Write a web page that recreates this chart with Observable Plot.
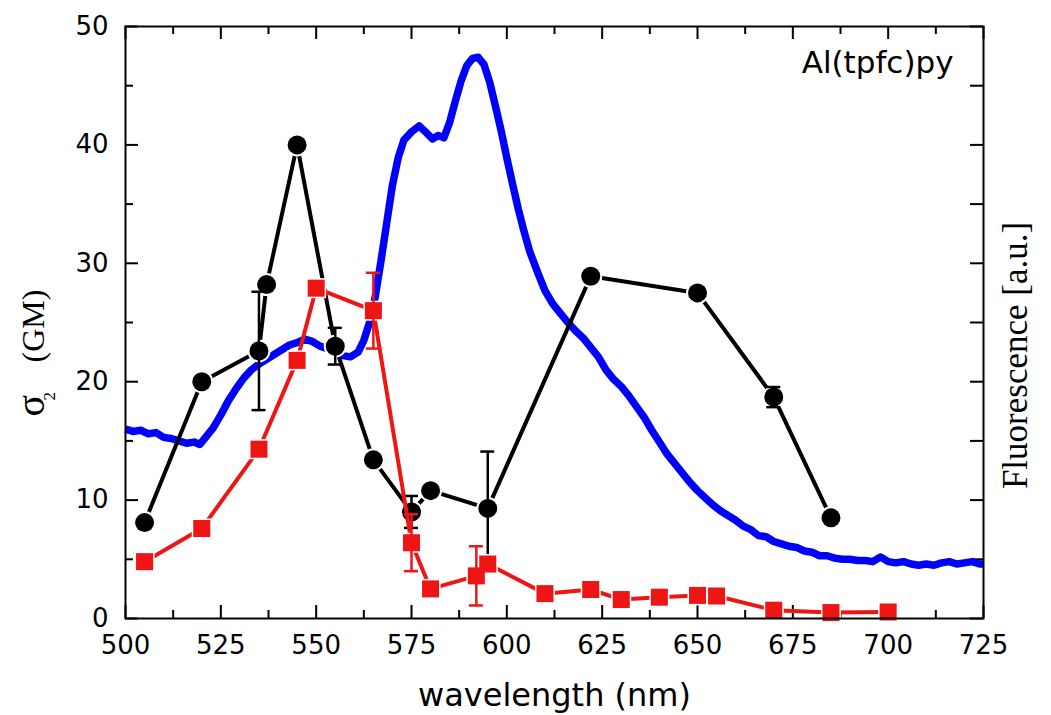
<!DOCTYPE html>
<html><head><meta charset="utf-8">
<script src="https://cdn.jsdelivr.net/npm/d3@7"></script>
<script src="https://cdn.jsdelivr.net/npm/@observablehq/plot@0.6"></script>
<style>body{margin:0;background:#fff}</style>
</head><body><div id="chart"></div>
<script>
// ---- tick values ----
const xTicks = [500, 525, 550, 575, 600, 625, 650, 675, 700, 725];
const xMinorTicks = [512.5, 537.5, 562.5, 587.5, 612.5, 637.5, 662.5, 687.5, 712.5];
const yTicks = [0, 10, 20, 30, 40, 50];
const yMinorTicks = [5, 15, 25, 35, 45];

// ---- fluorescence spectrum (blue) ----
const fluorWl = [
  500, 502, 504, 506, 508, 510, 512, 514, 516, 518,
  519.5, 521, 523, 525, 527, 529, 531, 533, 535, 537,
  539, 541, 543, 545, 547, 549, 551, 553, 555, 557,
  559, 561, 562.5, 564, 565.5, 567, 568.5, 570, 571.5, 573,
  575, 577, 579, 580.5, 582, 583.5, 585, 586.5, 588, 589.5,
  591, 592.5, 594, 595.5, 597, 598.5, 600, 601.5, 603, 604.5,
  606, 608, 610, 612, 614, 616, 618, 620, 622, 624,
  626, 628, 630, 632, 634, 636, 638, 640, 642, 644,
  646, 648, 650, 652, 654, 656, 658, 660, 662, 664,
  666, 668, 670, 672, 674, 676, 678, 680, 682, 684,
  686, 688, 690, 692, 694, 696, 698, 700, 702, 704,
  706, 708, 710, 712, 714, 716, 718, 720, 722, 724,
  725
];
const fluorVal = [
  16.0, 15.8, 15.9, 15.6, 15.7, 15.3, 15.2, 15.0, 14.8, 14.9,
  14.7, 15.3, 16.1, 17.2, 18.4, 19.4, 20.3, 21.0, 21.5, 21.9,
  22.3, 22.7, 23.1, 23.3, 23.6, 23.4, 23.0, 22.8, 22.5, 22.2,
  22.1, 22.5, 23.5, 25.0, 27.2, 30.2, 33.4, 36.6, 38.9, 40.4,
  41.1, 41.6, 41.0, 40.5, 40.8, 40.6, 41.9, 43.7, 45.4, 46.7,
  47.3, 47.4, 46.8, 45.3, 43.3, 41.2, 38.9, 36.7, 34.6, 32.7,
  31.0, 29.3, 27.7, 26.6, 25.8, 25.0, 24.3, 23.7, 22.9, 22.1,
  21.0, 20.2, 19.6, 18.8, 17.9, 17.0, 15.9, 14.9, 13.9, 13.1,
  12.3, 11.5, 10.8, 10.2, 9.6, 9.1, 8.7, 8.3, 7.8, 7.5,
  7.0, 6.9, 6.5, 6.3, 6.1, 6.0, 5.7, 5.6, 5.3, 5.3,
  5.1, 5.0, 5.0, 4.9, 4.9, 4.8, 5.2, 4.8, 4.7, 4.8,
  4.6, 4.5, 4.6, 4.5, 4.7, 4.8, 4.6, 4.7, 4.8, 4.6,
  4.6
];

// ---- sigma2, black circles ----
const blackWl  = [505, 520, 535, 537, 545, 555, 565, 575, 580, 595, 622, 650, 670, 685];
const blackVal = [8.1, 20.0, 22.6, 28.2, 40.0, 23.0, 13.4, 9.0, 10.8, 9.3, 28.9, 27.5, 18.7, 8.5];
const blackErr = [0, 0, 5.0, 0, 0, 1.55, 0, 1.35, 0, 4.8, 0, 0, 0.85, 0];

// ---- sigma2, red squares ----
const redWl  = [505, 520, 535, 545, 550, 565, 575, 580, 592, 595, 610, 622, 630, 640, 650, 655, 670, 685, 700];
const redVal = [4.8, 7.6, 14.3, 21.8, 27.9, 26.0, 6.4, 2.5, 3.6, 4.6, 2.1, 2.45, 1.6, 1.8, 1.95, 1.9, 0.7, 0.5, 0.55];
const redErr = [0, 0, 0, 0, 0, 3.2, 2.4, 0, 2.5, 0, 0, 0.3, 0, 0, 0, 0, 0, 0, 0];

// ---- build tables ----
const fluor = fluorWl.map((x, i) => ({x, y: fluorVal[i]}));
const black = blackWl.map((x, i) => ({x, y: blackVal[i], e: blackErr[i]}));
const red = redWl.map((x, i) => ({x, y: redVal[i], e: redErr[i]}));
const errs = arr => arr.filter(d => d.e > 0).map(d => ({x: d.x, lo: d.y - d.e, hi: d.y + d.e}));
const blackE = errs(black), redE = errs(red);

const W = 1051, H = 715, mL = 125, mR = 68, mT = 26, mB = 97;
const fw = W - mL - mR, fh = H - mT - mB;
const RED = "#ee1515", BLUE = "#0000ff";
const SANS = "DejaVu Sans", SERIF = "Liberation Serif";

const chart = Plot.plot({
  width: W, height: H,
  marginLeft: mL, marginRight: mR, marginTop: mT, marginBottom: mB,
  style: {fontFamily: SANS, fontSize: "26px", background: "white", color: "black"},
  x: {domain: [500, 725]},
  y: {domain: [0, 50]},
  marks: [
    Plot.axisX(xTicks, {anchor: "bottom", tickSize: 0, tickPadding: 17, fontSize: 26, label: null}),
    Plot.axisY(yTicks, {anchor: "left", tickSize: 0, tickPadding: 17, fontSize: 26, label: null}),
    // inward ticks
    Plot.tickX(xTicks, {x: d => d, insetTop: fh - 13, stroke: "black", strokeWidth: 2}),
    Plot.tickX(xMinorTicks, {x: d => d, insetTop: fh - 8, stroke: "black", strokeWidth: 2}),
    Plot.tickX(xTicks, {x: d => d, insetBottom: fh - 13, stroke: "black", strokeWidth: 2}),
    Plot.tickX(xMinorTicks, {x: d => d, insetBottom: fh - 8, stroke: "black", strokeWidth: 2}),
    Plot.tickY(yTicks, {y: d => d, insetRight: fw - 13, stroke: "black", strokeWidth: 2}),
    Plot.tickY(yMinorTicks, {y: d => d, insetRight: fw - 8, stroke: "black", strokeWidth: 2}),
    Plot.tickY(yTicks.concat(yMinorTicks), {y: d => d, insetLeft: fw - 13, stroke: "black", strokeWidth: 2}),
    // fluorescence
    Plot.line(fluor, {x: "x", y: "y", stroke: BLUE, strokeWidth: 7.5, strokeLinejoin: "round", strokeLinecap: "butt"}),
    // black series
    Plot.line(black, {x: "x", y: "y", stroke: "black", strokeWidth: 4}),
    Plot.dot(black, {x: "x", y: "y", r: 11.5, fill: "white"}),
    Plot.dot(black, {x: "x", y: "y", r: 9.5, fill: "black"}),
    Plot.ruleX(blackE, {x: "x", y1: "lo", y2: "hi", stroke: "black", strokeWidth: 2.5}),
    Plot.ruleY(blackE, {y: "lo", x1: "x", x2: "x", insetLeft: -7, insetRight: -7, stroke: "black", strokeWidth: 2.5}),
    Plot.ruleY(blackE, {y: "hi", x1: "x", x2: "x", insetLeft: -7, insetRight: -7, stroke: "black", strokeWidth: 2.5}),
    // red series
    Plot.line(red, {x: "x", y: "y", stroke: RED, strokeWidth: 4}),
    Plot.dot(red, {x: "x", y: "y", r: 11.3, symbol: "square", fill: "white"}),
    Plot.dot(red, {x: "x", y: "y", r: 9.6, symbol: "square", fill: RED}),
    Plot.ruleX(redE, {x: "x", y1: "lo", y2: "hi", stroke: RED, strokeWidth: 2.5}),
    Plot.ruleY(redE, {y: "lo", x1: "x", x2: "x", insetLeft: -7, insetRight: -7, stroke: RED, strokeWidth: 2.5}),
    Plot.ruleY(redE, {y: "hi", x1: "x", x2: "x", insetLeft: -7, insetRight: -7, stroke: RED, strokeWidth: 2.5}),
    // frame
    Plot.frame({stroke: "black", strokeWidth: 2}),
    // texts
    Plot.text(["Al(tpfc)py"], {text: d => d, frameAnchor: "top-right", dx: -30, dy: 46, textAnchor: "end", lineAnchor: "bottom", fontSize: 31, fontFamily: SANS, fill: "black"}),
    Plot.text(["wavelength (nm)"], {text: d => d, frameAnchor: "bottom", dy: 87, lineAnchor: "bottom", fontSize: 32, fontFamily: SANS, fill: "black"}),
    Plot.text(["σ"], {text: d => d, frameAnchor: "left", dx: -82, dy: 94, rotate: -90, textAnchor: "start", lineAnchor: "bottom", fontSize: 40, fontFamily: SERIF, fill: "black"}),
    Plot.text(["2"], {text: d => d, frameAnchor: "left", dx: -71, dy: 78, rotate: -90, textAnchor: "start", lineAnchor: "bottom", fontSize: 17, fontFamily: SERIF, fill: "black"}),
    Plot.text(["(GM)"], {text: d => d, frameAnchor: "left", dx: -82, dy: 40, rotate: -90, textAnchor: "start", lineAnchor: "bottom", fontSize: 32, fontFamily: SERIF, fill: "black"}),
    Plot.text(["Fluorescence [a.u.]"], {text: d => d, frameAnchor: "right", dx: 43, dy: 33, rotate: -90, textAnchor: "middle", lineAnchor: "bottom", fontSize: 35, fontFamily: SERIF, fill: "black"})
  ]
});
document.getElementById("chart").appendChild(chart);
</script>
</body></html>
